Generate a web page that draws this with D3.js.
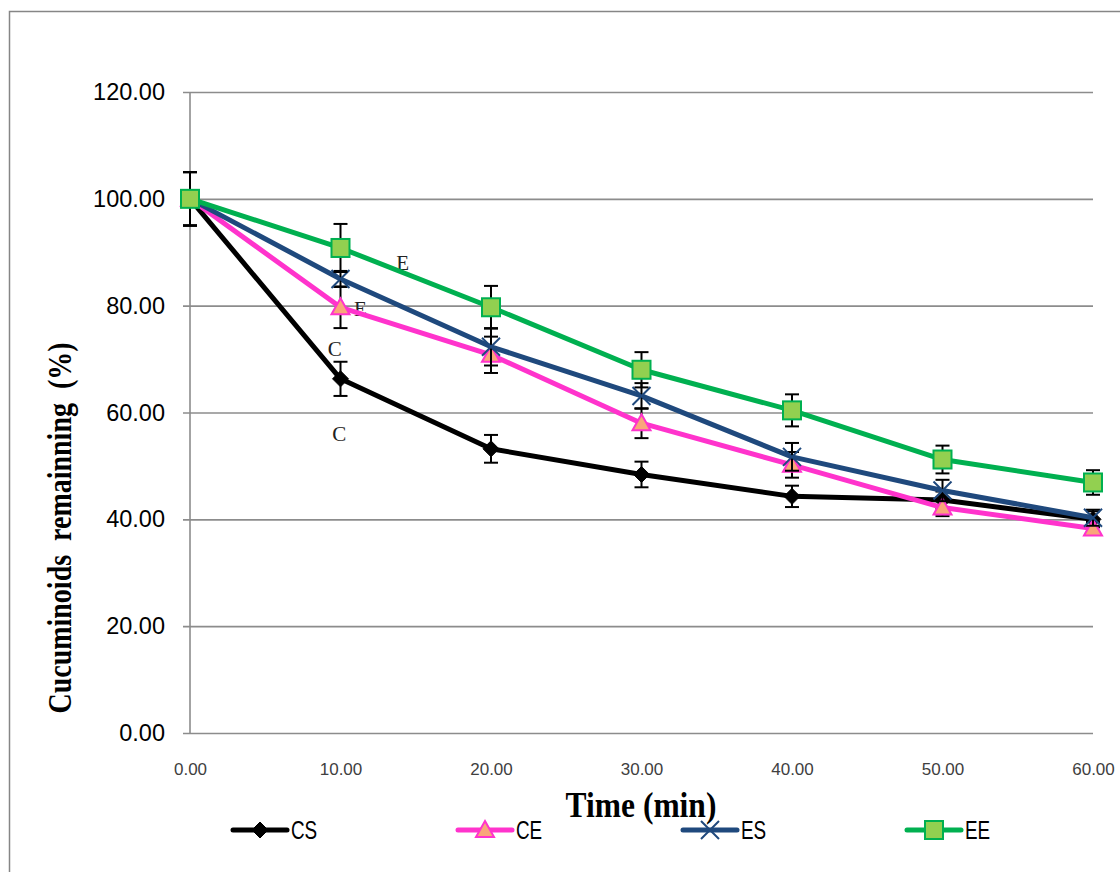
<!DOCTYPE html>
<html><head><meta charset="utf-8">
<script src="https://cdn.jsdelivr.net/npm/d3@7"></script>
<style>body{margin:0;background:#fff}svg{display:block}</style>
</head><body>
<svg id="c" width="1120" height="872"></svg>
<script>
const times = [0, 10, 20, 30, 40, 50, 60];
const yTicks = [0, 20, 40, 60, 80, 100, 120];
const seriesNames = ["CS", "CE", "ES", "EE"];
const csValues = [100, 66.3, 53.2, 48.4, 44.3, 43.6, 40.0];
const ceValues = [100, 79.7, 70.8, 58.0, 50.2, 42.2, 38.3];
const esValues = [100, 85.0, 72.3, 63.1, 51.7, 45.4, 40.3];
const eeValues = [100, 90.8, 79.7, 68.0, 60.4, 51.2, 46.9];
const csErr = [5, 3.2, 2.6, 2.4, 2.0, 1.6, 1.5];
const ceErr = [5, 3.9, 3.4, 2.8, 2.4, 1.6, 1.2];
const esErr = [5, 1.5, 3.5, 2.4, 2.6, 2.0, 1.5];
const eeErr = [5, 4.5, 4.0, 3.3, 3.0, 2.6, 2.3];
const annotations = [
  {t: "E", x: 13.7, y: 86.6},
  {t: "E", x: 10.9, y: 78.0},
  {t: "C", x: 9.15, y: 70.6},
  {t: "C", x: 9.45, y: 54.6}
];

const svg = d3.select("#c");
const x = d3.scaleLinear().domain([0, 60]).range([190, 1093]);
const y = d3.scaleLinear().domain([0, 120]).range([733, 92]);

// outer frame
svg.append("rect").attr("x", 9.5).attr("y", 11.5).attr("width", 1300).attr("height", 1000)
  .attr("fill", "none").attr("stroke", "#868686").attr("stroke-width", 1.5);

// y axis with gridlines
const ya = svg.append("g").attr("transform", "translate(183,0)")
  .call(d3.axisLeft(y).tickValues(yTicks).tickFormat(d3.format(".2f"))
    .tickSizeInner(-(1093 - 183)).tickSizeOuter(0).tickPadding(18));
ya.select(".domain").remove();
ya.selectAll(".tick line").attr("stroke", "#8c8c8c").attr("stroke-width", 1.6);
ya.selectAll(".tick text").attr("font-family", "Liberation Sans, Arial, sans-serif")
  .attr("font-size", 23.5).attr("fill", "#000");

svg.append("line").attr("x1", 190).attr("x2", 190).attr("y1", y(120)).attr("y2", y(0))
  .attr("stroke", "#8c8c8c").attr("stroke-width", 1.6);

// x axis labels
const xa = svg.append("g").attr("transform", "translate(0,733)")
  .call(d3.axisBottom(x).tickValues(times).tickFormat(d3.format(".2f")).tickSize(0).tickPadding(30));
xa.select(".domain").remove();
xa.selectAll(".tick text").attr("font-family", "Liberation Sans, Arial, sans-serif")
  .attr("font-size", 17).attr("fill", "#404040");

// annotations (behind the series)
svg.append("g").selectAll("text").data(annotations).join("text")
  .attr("x", d => x(d.x)).attr("y", d => y(d.y))
  .attr("font-family", "Liberation Serif, Times New Roman, serif").attr("font-size", 21)
  .attr("fill", "#222").text(d => d.t);

const series = [
  {name: "CS", values: csValues, err: csErr, color: "#000000", marker: "diamond"},
  {name: "CE", values: ceValues, err: ceErr, color: "#ff33cc", marker: "triangle"},
  {name: "ES", values: esValues, err: esErr, color: "#1f497d", marker: "x"},
  {name: "EE", values: eeValues, err: eeErr, color: "#00b050", marker: "square"}
];

function drawMarker(g, type, cx, cy) {
  if (type === "diamond") {
    g.append("path").attr("d", `M${cx},${cy-8}L${cx+8},${cy}L${cx},${cy+8}L${cx-8},${cy}Z`)
      .attr("fill", "#000").attr("stroke", "#000").attr("stroke-width", 1);
  } else if (type === "triangle") {
    g.append("path").attr("d", `M${cx},${cy-9}L${cx+9},${cy+7}L${cx-9},${cy+7}Z`)
      .attr("fill", "#f9a67a").attr("stroke", "#ff33cc").attr("stroke-width", 2);
  } else if (type === "x") {
    g.append("path").attr("d", `M${cx-9},${cy-9}L${cx+9},${cy+9}M${cx+9},${cy-9}L${cx-9},${cy+9}`)
      .attr("stroke", "#1f497d").attr("stroke-width", 2).attr("fill", "none");
  } else if (type === "square") {
    g.append("rect").attr("x", cx - 9).attr("y", cy - 9).attr("width", 18).attr("height", 18)
      .attr("fill", "#92d050").attr("stroke", "#00b050").attr("stroke-width", 2);
  }
}

const line = d3.line().x((d, i) => x(times[i])).y(d => y(d));
series.forEach(s => {
  const g = svg.append("g");
  g.append("path").attr("d", line(s.values)).attr("fill", "none")
    .attr("stroke", s.color).attr("stroke-width", 5).attr("stroke-linejoin", "round");
  const eb = g.append("g").attr("stroke", "#000").attr("stroke-width", 2);
  s.values.forEach((v, i) => {
    const cx = x(times[i]);
    const y1 = y(v + s.err[i]), y2 = y(v - s.err[i]);
    eb.append("line").attr("x1", cx).attr("x2", cx).attr("y1", y1).attr("y2", y2);
    eb.append("line").attr("x1", cx - 7).attr("x2", cx + 7).attr("y1", y1).attr("y2", y1);
    eb.append("line").attr("x1", cx - 7).attr("x2", cx + 7).attr("y1", y2).attr("y2", y2);
  });
  s.values.forEach((v, i) => drawMarker(g, s.marker, x(times[i]), y(v)));
});

// axis titles
svg.append("text").attr("transform", "translate(641,817) scale(1,1.12)")
  .attr("text-anchor", "middle").attr("font-family", "Liberation Serif, Times New Roman, serif")
  .attr("font-weight", "bold").attr("font-size", 31.5).attr("fill", "#000").text("Time (min)");

svg.append("text").attr("transform", "translate(71,528) rotate(-90) scale(1,1.2)")
  .attr("text-anchor", "middle").attr("font-family", "Liberation Serif, Times New Roman, serif")
  .attr("font-weight", "bold").attr("font-size", 28).attr("fill", "#000")
  .attr("xml:space", "preserve").style("white-space", "pre")
  .text("Cucuminoids  remainning  (%)");

// legend
const legendX = [233, 458, 683, 907];
const lg = svg.append("g");
series.forEach((s, i) => {
  const lx = legendX[i], ly = 830;
  lg.append("line").attr("x1", lx).attr("x2", lx + 54).attr("y1", ly).attr("y2", ly)
    .attr("stroke", s.color).attr("stroke-width", 5).attr("stroke-linecap", "round");
  drawMarker(lg, s.marker, lx + 27, ly);
  lg.append("text").attr("transform", `translate(${lx + 58},${ly + 9}) scale(0.82,1.1)`)
    .attr("font-family", "Liberation Sans, Arial, sans-serif").attr("font-size", 23)
    .attr("fill", "#000").text(seriesNames[i]);
});
</script>
</body></html>
